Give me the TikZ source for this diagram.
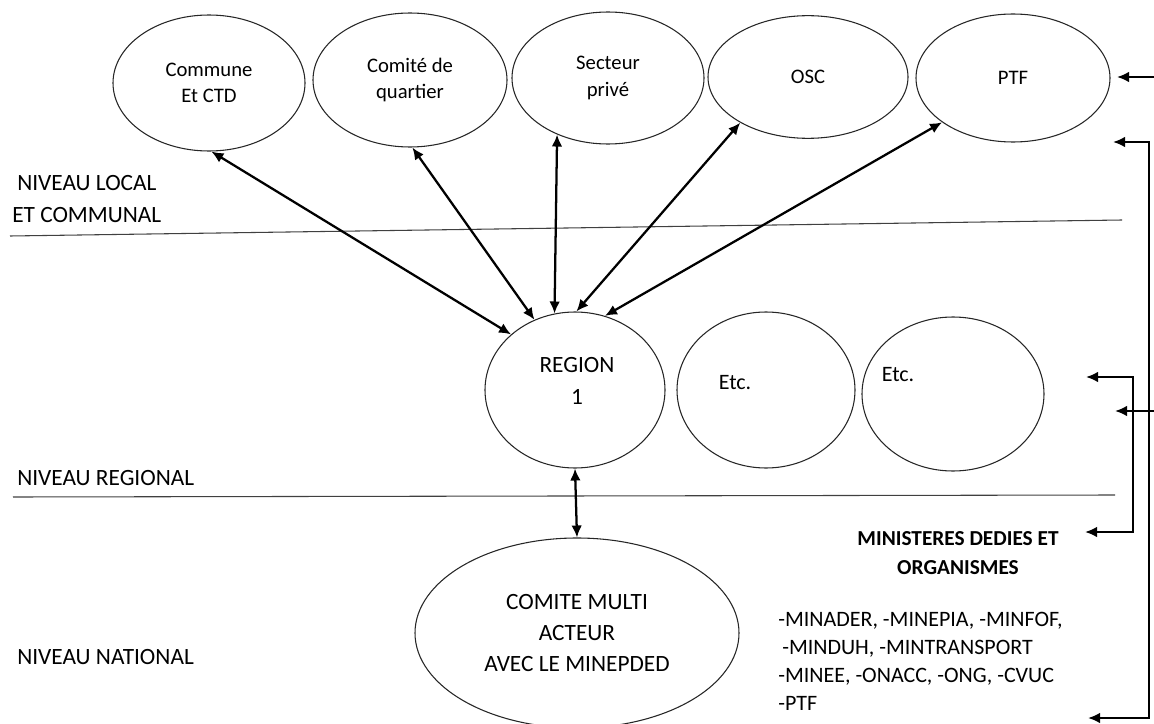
\documentclass[tikz,border=0pt]{standalone}
\usepackage{fontspec}
\setmainfont{Carlito}
\usetikzlibrary{arrows.meta,shapes.geometric}
\tikzset{
  ell/.style={draw=black!85, line width=0.8pt, ellipse, inner sep=0pt, align=center},
  arr/.style={line width=1.7pt, {Latex[length=9pt,width=8pt]}-{Latex[length=9pt,width=8pt]}},
  arrone/.style={line width=1.7pt, -{Latex[length=9pt,width=8pt]}},
  sep/.style={line width=0.8pt, draw=black!75},
  lbl/.style={anchor=west, inner sep=0pt, font=\fontsize{17.5}{20}\selectfont},
  etxt/.style={font=\fontsize{15.5}{20}\selectfont},
}
\begin{document}
\begin{tikzpicture}[x=0.75pt,y=-0.75pt]
\useasboundingbox (0,0) rectangle (1154,724);
% top ellipses
\node[ell, minimum width=144pt, minimum height=102pt, etxt] (commune) at (209,83) {Commune\\Et CTD};
\node[ell, minimum width=145.5pt, minimum height=100.5pt, etxt] (comite) at (410,80) {Comit\'e de\\quartier};
\node[ell, minimum width=144pt, minimum height=99pt, etxt] (secteur) at (608,78) {Secteur\\priv\'e};
\node[ell, minimum width=150pt, minimum height=92pt, etxt] (osc) at (808,77) {OSC};
\node[ell, minimum width=145.5pt, minimum height=96pt, etxt] (ptf) at (1013,78) {PTF};
% middle ellipses
\node[ell, minimum width=135pt, minimum height=117pt] (region) at (575,390) {};
\node[align=center, font=\fontsize{17.5}{24}\selectfont] (regiont) at (577,381) {REGION\\1};
\node[ell, minimum width=133.5pt, minimum height=117pt] (etcA) at (766,390) {};
\node[font=\fontsize{16.5}{20}\selectfont] (etcAt) at (735,383) {Etc.};
\node[ell, minimum width=136.5pt, minimum height=115.5pt] (etcB) at (953,394) {};
\node[font=\fontsize{16.5}{20}\selectfont] (etcBt) at (898,375) {Etc.};
% national ellipse
\node[ell, minimum width=243pt, minimum height=142.5pt, font=\fontsize{17.5}{23}\selectfont] (cma) at (577,633) {COMITE MULTI\\ACTEUR\\AVEC LE MINEPDED};
% separators
\coordinate (s1a) at (10,236); \coordinate (s1b) at (1122,220);
\coordinate (s2a) at (13,497); \coordinate (s2b) at (1115,495);
\draw[sep] (s1a) -- (s1b);
\draw[sep] (s2a) -- (s2b);
% level labels
\node[lbl] (l1) at (17,183) {NIVEAU LOCAL};
\node[lbl] (l2) at (12,215) {ET COMMUNAL};
\node[lbl] (l3) at (17,478) {NIVEAU REGIONAL};
\node[lbl] (l4) at (17,657) {NIVEAU NATIONAL};
% ministeres
\node[font=\bfseries\fontsize{16}{22}\selectfont, align=center] (min) at (958,553) {MINISTERES DEDIES ET\\ORGANISMES};
\node[anchor=north west, inner sep=0pt, align=left, font=\fontsize{16.5}{21}\selectfont] (list) at (778,612) {-MINADER, -MINEPIA, -MINFOF,\\\hspace{3pt}-MINDUH, -MINTRANSPORT\\-MINEE, -ONACC, -ONG, -CVUC\\-PTF};
% arrows top -> region
\draw[arr] (commune.-88) -- (region.139);
\draw[arr] (comite.-88) -- (region.120);
\draw[arr] (secteur.-132) -- (region.105);
\draw[arr] (osc.-146) -- (region.89);
\draw[arr] (ptf.-148) -- (region.68);
\draw[arr] (region.south) -- (cma.north);
% right side connectors
\coordinate (a1s) at (1156,77); \coordinate (a1t) at (1117,77);
\draw[arrone] (a1s) -- (a1t);
\coordinate (o1) at (1113,142); \coordinate (o2) at (1149,142);
\coordinate (o3) at (1149,718); \coordinate (o4) at (1088,718);
\draw[arr] (o1) -- (o2) -- (o3) -- (o4);
\coordinate (i1) at (1086,377); \coordinate (i2) at (1133,377);
\coordinate (i3) at (1133,532); \coordinate (i4) at (1085,532);
\draw[arr] (i1) -- (i2) -- (i3) -- (i4);
\coordinate (m1) at (1156,411); \coordinate (m2) at (1115,411);
\draw[arrone] (m1) -- (m2);
\end{tikzpicture}
\end{document}
